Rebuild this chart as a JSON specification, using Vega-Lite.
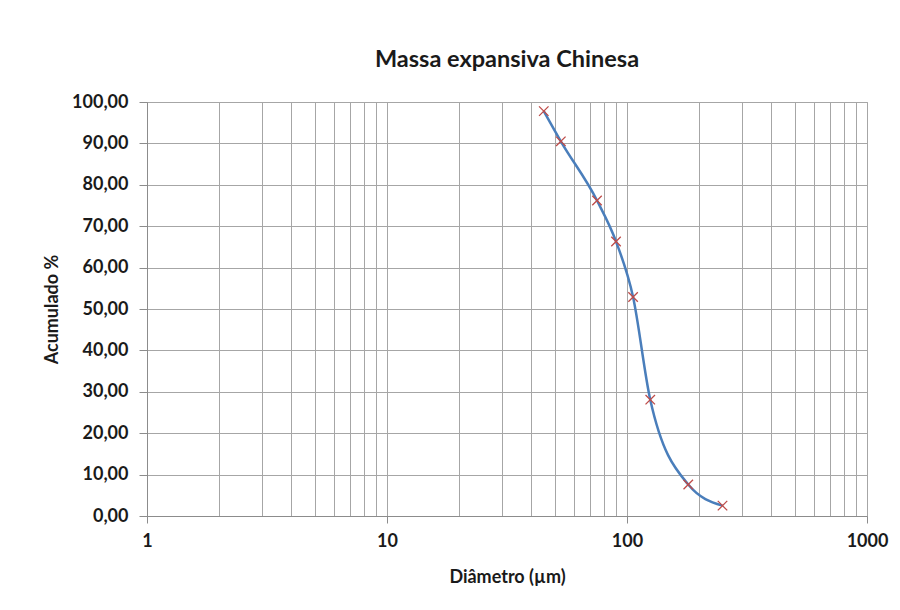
{
  "$schema": "https://vega.github.io/schema/vega-lite/v6.json",
  "autosize": "none",
  "width": 720,
  "height": 414,
  "padding": {"left": 147, "top": 102, "right": 33, "bottom": 94},
  "background": "white",
  "title": {
    "text": "Massa expansiva Chinesa",
    "font": "Lato",
    "fontSize": 23.5,
    "fontWeight": "bold",
    "color": "#1a1a1a",
    "anchor": "middle",
    "offset": 22
  },
  "data": {
    "values": [
      {"diametro": 45, "acumulado": 97.8},
      {"diametro": 53, "acumulado": 90.5},
      {"diametro": 75, "acumulado": 76.2},
      {"diametro": 90, "acumulado": 66.3},
      {"diametro": 106, "acumulado": 52.9},
      {"diametro": 125, "acumulado": 28.1},
      {"diametro": 180, "acumulado": 7.6},
      {"diametro": 250, "acumulado": 2.5}
    ]
  },
  "config": {
    "view": {"stroke": "#a6a6a6", "strokeWidth": 1},
    "axis": {
      "labelFont": "Lato",
      "labelFontWeight": "bold",
      "labelFontSize": 18,
      "labelColor": "#1a1a1a",
      "titleFont": "Lato",
      "titleFontWeight": "bold",
      "titleFontSize": 18,
      "titleColor": "#1a1a1a",
      "gridColor": "#a6a6a6",
      "gridOpacity": 1,
      "gridWidth": 1,
      "domainColor": "#8c8c8c",
      "tickColor": "#8c8c8c"
    }
  },
  "encoding": {
    "x": {
      "field": "diametro",
      "type": "quantitative",
      "scale": {"type": "log", "domain": [1, 1000], "nice": false},
      "axis": {
        "title": "Diâmetro (µm)",
        "values": [1, 2, 3, 4, 5, 6, 7, 8, 9, 10, 20, 30, 40, 50, 60, 70, 80, 90, 100, 200, 300, 400, 500, 600, 700, 800, 900, 1000],
        "labelExpr": "indexof([1, 10, 100, 1000], datum.value) >= 0 ? datum.value + '' : ''",
        "tickSize": 7,
        "tickOpacity": {"condition": {"test": "indexof([1, 10, 100, 1000], datum.value) >= 0", "value": 1}, "value": 0},
        "labelPadding": 9,
        "labelFlush": false,
        "labelOverlap": false,
        "titlePadding": 18
      }
    },
    "y": {
      "field": "acumulado",
      "type": "quantitative",
      "scale": {"domain": [0, 100], "nice": false},
      "axis": {
        "title": "Acumulado %",
        "values": [0, 10, 20, 30, 40, 50, 60, 70, 80, 90, 100],
        "labelExpr": "replace(format(datum.value, '.2f'), '.', ',')",
        "tickSize": 8,
        "labelPadding": 11,
        "titlePadding": 10
      }
    }
  },
  "layer": [
    {
      "mark": {"type": "line", "interpolate": "monotone", "color": "#4a7ebb", "strokeWidth": 2.5}
    },
    {
      "mark": {
        "type": "point",
        "shape": "M-1,-1L1,1M1,-1L-1,1",
        "filled": false,
        "size": 90,
        "strokeWidth": 1.3,
        "color": "#be4b48",
        "opacity": 1
      }
    }
  ]
}
